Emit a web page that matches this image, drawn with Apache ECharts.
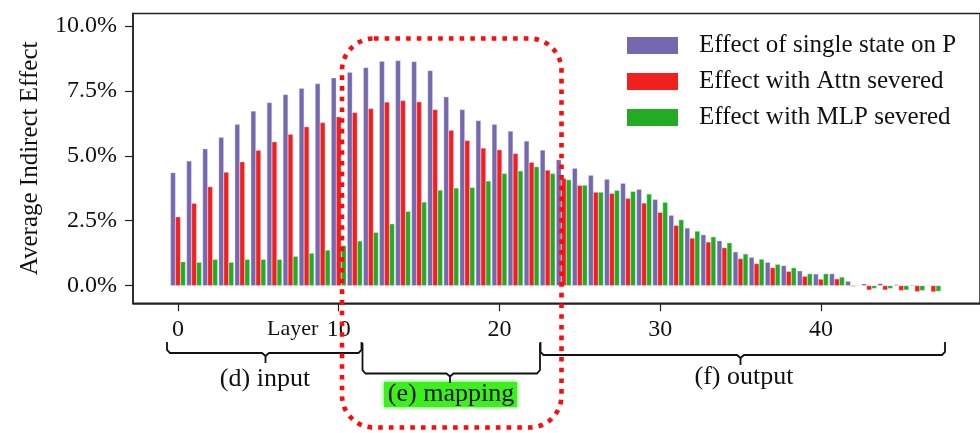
<!DOCTYPE html>
<html>
<head>
<meta charset="utf-8">
<script src="https://cdn.jsdelivr.net/npm/echarts@6/dist/echarts.min.js"></script>
<style>html,body{margin:0;padding:0;background:#fff;}#c{width:980px;height:433px;}</style>
</head>
<body>
<div id="c"></div>
<script>
const layers = [0,1,2,3,4,5,6,7,8,9,10,11,12,13,14,15,16,17,18,19,20,21,22,23,24,25,26,27,28,29,30,31,32,33,34,35,36,37,38,39,40,41,42,43,44,45,46,47];
const singleState = [4.35,4.80,5.27,5.71,6.21,6.72,7.05,7.36,7.60,7.78,8.00,8.22,8.40,8.64,8.67,8.63,8.28,7.27,6.78,6.36,6.21,5.95,5.57,5.22,4.85,4.52,4.25,4.10,3.94,3.71,3.32,2.71,2.22,1.96,1.73,1.30,1.09,0.90,0.77,0.57,0.45,0.46,0.17,0.07,0.08,0.04,0.03,0.01];
const attnSevered = [2.65,3.17,3.81,4.37,4.77,5.21,5.54,5.83,6.12,6.28,6.50,6.67,6.82,7.07,7.13,7.08,6.78,5.98,5.59,5.30,5.23,5.09,4.75,4.45,4.13,3.86,3.60,3.55,3.36,3.18,2.82,2.32,1.83,1.68,1.46,1.04,0.85,0.69,0.55,0.36,0.25,0.26,-0.03,-0.17,-0.17,-0.19,-0.23,-0.24];
const mlpSevered = [0.92,0.90,1.01,0.90,1.01,1.01,1.01,1.13,1.25,1.37,1.54,1.72,2.05,2.38,2.86,3.22,3.68,3.76,3.78,4.03,4.32,4.42,4.58,4.32,4.08,3.87,3.60,3.67,3.63,3.53,3.21,2.54,2.10,1.88,1.65,1.22,1.02,0.82,0.69,0.46,0.46,0.33,0.01,-0.11,-0.11,-0.17,-0.19,-0.22];
const seriesNames = ['Effect of single state on P','Effect with Attn severed','Effect with MLP severed'];
const xTicks = [0,10,20,30,40];
const yTicks = [0,2.5,5,7.5,10];

const FONT = '"Liberation Serif","DejaVu Serif",serif';
const colors = ['#7668af','#f21f1f','#24ab24'];
const edges = ['rgba(220,215,240,0.9)','rgba(255,200,200,0.9)','rgba(200,240,200,0.9)'];

const chart = echarts.init(document.getElementById('c'), null, {renderer:'canvas'});
function mk(i, arr){
  return {
    name: seriesNames[i], type:'bar', barWidth:5, barGap:'0%',
    data: layers.map((l,k)=>[l, arr[k]]),
    itemStyle:{color:colors[i], borderColor:edges[i], borderWidth:0.4},
    emphasis:{disabled:true}, animation:false
  };
}
const option = {
  animation:false,
  grid:{left:133, top:13.5, width:848, height:289.8, show:true, borderColor:'#222', borderWidth:1.5, containLabel:false},
  legend:{
    orient:'vertical', left:627, top:33, padding:0, itemWidth:51, itemHeight:17, itemGap:11,
    icon:'rect', itemStyle:{borderWidth:0},
    textStyle:{fontFamily:FONT, fontSize:25, color:'#111', padding:[0,0,0,16]},
    data:seriesNames
  },
  xAxis:{
    type:'value', min:-2.8, max:49.9,
    axisLine:{show:true, onZero:false, lineStyle:{color:'#222', width:1.5}},
    axisTick:{show:true, length:8, lineStyle:{color:'#222', width:1.2}, customValues:xTicks},
    axisLabel:{fontFamily:FONT, fontSize:24, color:'#111', margin:14, customValues:xTicks},
    splitLine:{show:false}
  },
  yAxis:{
    type:'value', min:-0.68, max:10.48,
    name:'Average Indirect Effect', nameLocation:'middle', nameGap:90,
    nameTextStyle:{fontFamily:FONT, fontSize:25, color:'#111'},
    axisLine:{show:true, onZero:false, lineStyle:{color:'#222', width:1.5}},
    axisTick:{show:true, length:8, lineStyle:{color:'#222', width:1.2}, customValues:yTicks},
    axisLabel:{fontFamily:FONT, fontSize:24, color:'#111', margin:16, customValues:yTicks,
      formatter:v=>v.toFixed(1)+'%'},
    splitLine:{show:false}
  },
  series:[mk(0,singleState), mk(1,attnSevered), mk(2,mlpSevered)],
  graphic:[
    {type:'text', left:267, top:318, style:{text:'Layer', font:'22px '+FONT, fill:'#111'}, z:10},
    // (d) input bracket
    {type:'polyline', shape:{points:[[167,342],[167,350],[170,353],[262,353],[265.5,356],[265.5,363]]}, style:{stroke:'#111', lineWidth:1.8, fill:null}, z:10},
    {type:'polyline', shape:{points:[[361.5,342],[361.5,350],[358.5,353],[269,353],[265.5,356]]}, style:{stroke:'#111', lineWidth:1.8, fill:null}, z:10},
    {type:'text', x:265, y:379, style:{text:'(d) input', font:'26px '+FONT, fill:'#111', align:'center', verticalAlign:'middle'}, z:10},
    // (e) mapping bracket
    {type:'polyline', shape:{points:[[362.5,343],[362.5,370],[365.5,373.5],[446.5,373.5],[450,376.5],[450,383]]}, style:{stroke:'#111', lineWidth:1.8, fill:null}, z:10},
    {type:'polyline', shape:{points:[[540,343],[540,370],[537,373.5],[453.5,373.5],[450,376.5]]}, style:{stroke:'#111', lineWidth:1.8, fill:null}, z:10},
    {type:'rect', shape:{x:384, y:382, width:133, height:25}, style:{fill:'#3cf01e', shadowBlur:4, shadowColor:'#3cf01e'}, z:9},
    {type:'text', x:451, y:394, style:{text:'(e) mapping', font:'26px '+FONT, fill:'#111', align:'center', verticalAlign:'middle'}, z:10},
    // (f) output bracket
    {type:'polyline', shape:{points:[[540.5,342],[540.5,352],[543.5,355],[737,355],[740.5,358],[740.5,365]]}, style:{stroke:'#111', lineWidth:1.8, fill:null}, z:10},
    {type:'polyline', shape:{points:[[945,342],[945,352],[942,355],[744,355],[740.5,358]]}, style:{stroke:'#111', lineWidth:1.8, fill:null}, z:10},
    {type:'text', x:744, y:377, style:{text:'(f) output', font:'26px '+FONT, fill:'#111', align:'center', verticalAlign:'middle'}, z:10},
    // red dotted rounded box
    {type:'rect', shape:{x:342, y:38.5, width:219.5, height:389, r:32}, style:{fill:null, stroke:'#ff0a0a', lineWidth:4.6, lineDash:[4.6,6.1]}, z:20}
  ]
};
chart.setOption(option);
</script>
</body>
</html>
